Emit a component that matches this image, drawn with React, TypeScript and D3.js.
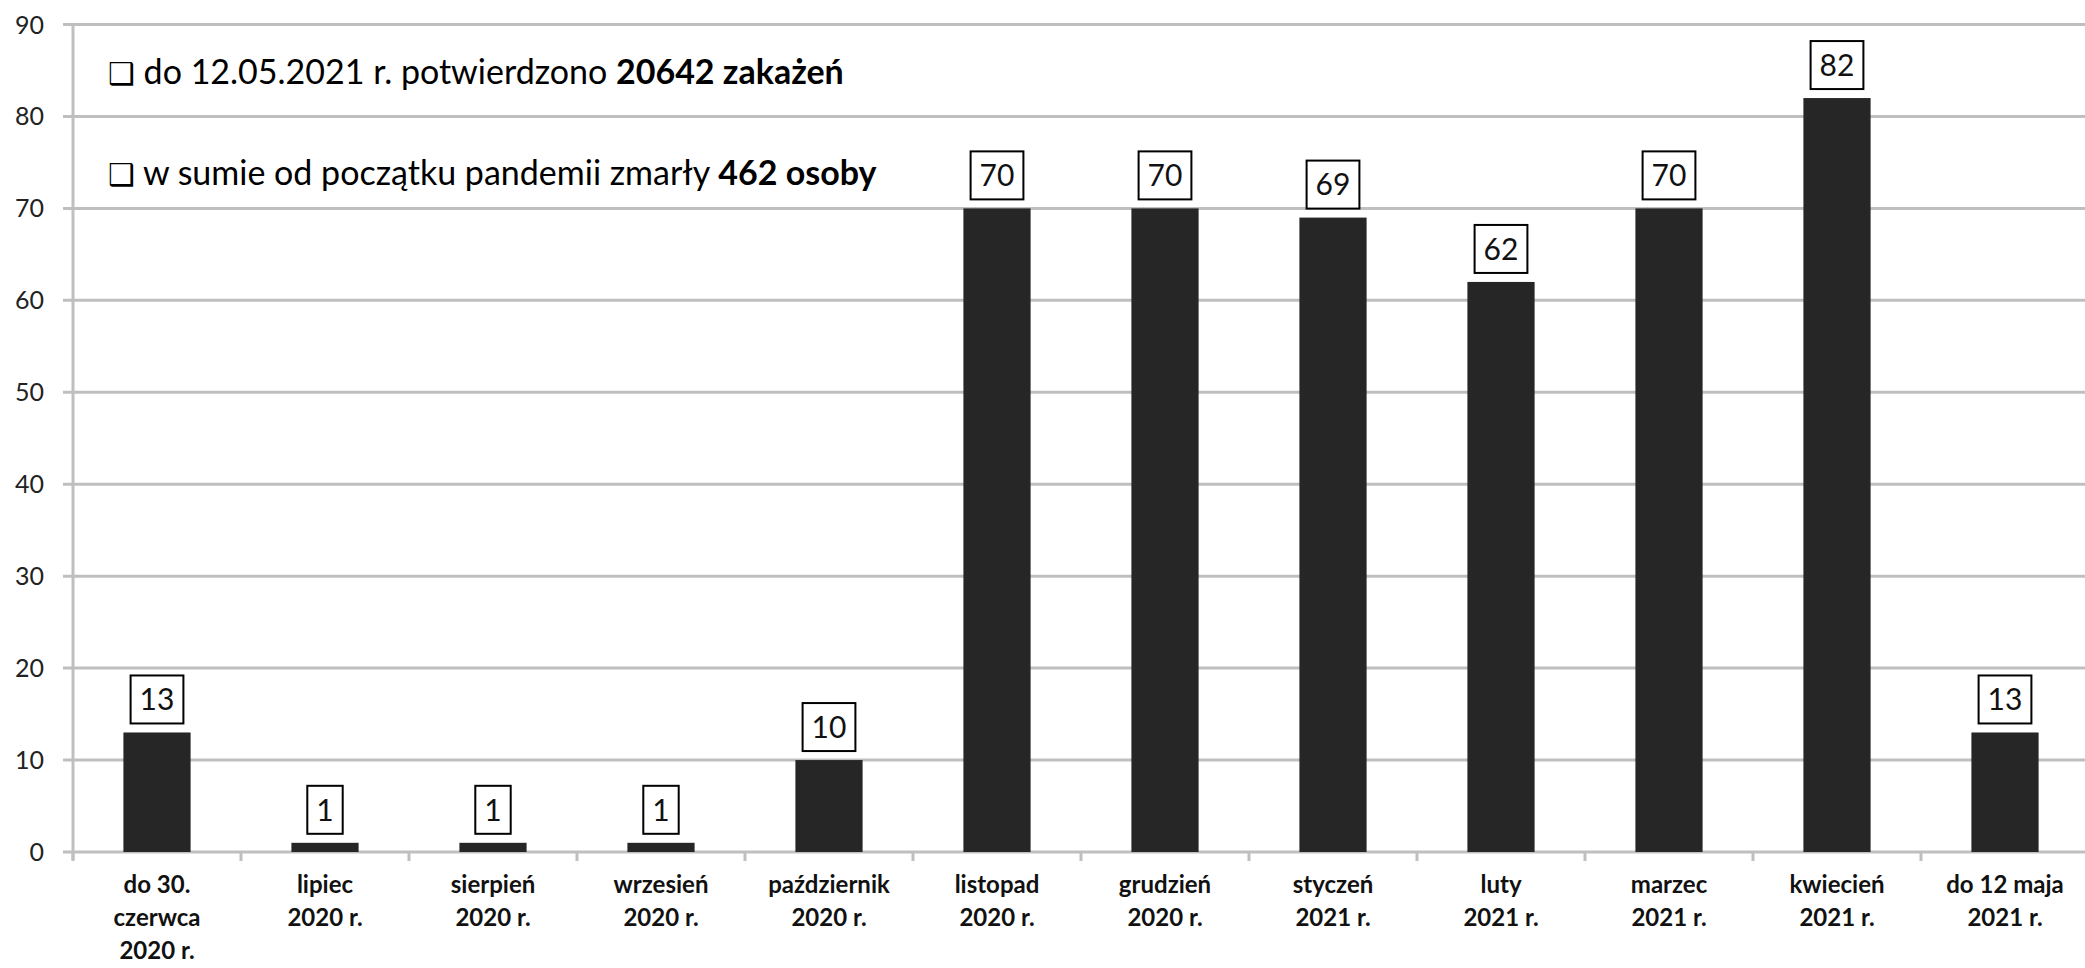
import React, { useEffect, useRef } from "react";
import * as d3 from "d3";

const categories = [
  ["do 30.", "czerwca", "2020 r."],
  ["lipiec", "2020 r."],
  ["sierpień", "2020 r."],
  ["wrzesień", "2020 r."],
  ["październik", "2020 r."],
  ["listopad", "2020 r."],
  ["grudzień", "2020 r."],
  ["styczeń", "2021 r."],
  ["luty", "2021 r."],
  ["marzec", "2021 r."],
  ["kwiecień", "2021 r."],
  ["do 12 maja", "2021 r."]
];
const values = [13, 1, 1, 1, 10, 70, 70, 69, 62, 70, 82, 13];
const yTicks = [0, 10, 20, 30, 40, 50, 60, 70, 80, 90];
const notes = [
  { text: "do 12.05.2021 r. potwierdzono ", bold: "20642 zakażeń" },
  { text: "w sumie od początku pandemii zmarły ", bold: "462 osoby" }
];

const FONT = "Lato, 'Open Sans', sans-serif";

export default function App() {
  const ref = useRef<SVGSVGElement>(null);

  useEffect(() => {
    const width = 2085;
    const height = 968;
    const left = 73;
    const step = 168;
    const y0 = 852;
    const yTop = 24.5;

    const svg = d3.select(ref.current);
    svg.selectAll("*").remove();
    svg.attr("width", width).attr("height", height);

    const keys = categories.map((c, i) => String(i));
    const x = d3.scaleBand()
      .domain(keys)
      .range([left, left + step * categories.length])
      .paddingInner(0.6)
      .paddingOuter(0.3);

    const y = d3.scaleLinear().domain([0, 90]).range([y0, yTop]);

    // gridlines
    svg.append("g")
      .selectAll("line")
      .data(yTicks)
      .enter()
      .append("line")
      .attr("x1", left - 10)
      .attr("x2", width)
      .attr("y1", d => y(d))
      .attr("y2", d => y(d))
      .attr("stroke", "#bfbfbf")
      .attr("stroke-width", 3);

    // y axis line
    svg.append("line")
      .attr("x1", left).attr("x2", left)
      .attr("y1", yTop).attr("y2", y0 + 8)
      .attr("stroke", "#bfbfbf")
      .attr("stroke-width", 3);

    // x ticks
    svg.append("g")
      .selectAll("line")
      .data(d3.range(categories.length + 1))
      .enter()
      .append("line")
      .attr("x1", i => left + i * x.step())
      .attr("x2", i => left + i * x.step())
      .attr("y1", y0)
      .attr("y2", y0 + 9)
      .attr("stroke", "#bfbfbf")
      .attr("stroke-width", 3);

    // y labels
    svg.append("g")
      .selectAll("text")
      .data(yTicks)
      .enter()
      .append("text")
      .attr("x", 44)
      .attr("y", d => y(d))
      .attr("dy", "0.36em")
      .attr("text-anchor", "end")
      .style("font-family", FONT)
      .style("font-size", "25px")
      .style("fill", "#222")
      .text(d => d);

    // bars
    svg.append("g")
      .selectAll("rect")
      .data(values)
      .enter()
      .append("rect")
      .attr("x", (d, i) => x(keys[i]) as number)
      .attr("y", d => y(d))
      .attr("width", x.bandwidth())
      .attr("height", d => y0 - y(d))
      .style("fill", "#262626");

    // value labels in boxes
    values.forEach((v, i) => {
      const cx = (x(keys[i]) as number) + x.bandwidth() / 2;
      const boxBottom = y(v) - 9;
      const g = svg.append("g");
      const rect = g.append("rect");
      const t = g.append("text")
        .attr("x", cx)
        .attr("y", boxBottom - 24)
        .attr("dy", "0.36em")
        .attr("text-anchor", "middle")
        .style("font-family", FONT)
        .style("font-size", "30px")
        .style("fill", "#111")
        .text(v);
      const w = (t.node() as SVGTextElement).getComputedTextLength() + 18;
      rect
        .attr("x", cx - w / 2)
        .attr("y", boxBottom - 48)
        .attr("width", w)
        .attr("height", 48)
        .attr("fill", "#fff")
        .attr("stroke", "#000")
        .attr("stroke-width", 2);
    });

    // x labels
    categories.forEach((lines, i) => {
      const cx = (x(keys[i]) as number) + x.bandwidth() / 2;
      const t = svg.append("text")
        .attr("text-anchor", "middle")
        .style("font-family", FONT)
        .style("font-size", "24px")
        .style("font-weight", "bold")
        .style("fill", "#111");
      lines.forEach((line, j) => {
        t.append("tspan").attr("x", cx).attr("y", 893 + j * 33).text(line);
      });
    });

    // annotations
    notes.forEach((n, i) => {
      const t = svg.append("text")
        .attr("x", 108)
        .attr("y", 84 + i * 101)
        .style("font-family", FONT)
        .style("font-size", "34px")
        .style("fill", "#000");
      t.append("tspan").style("font-family", "'DejaVu Sans', sans-serif").style("font-size", "30px").text("❑");
      t.append("tspan").text(" " + n.text);
      t.append("tspan").style("font-weight", "bold").text(n.bold);
    });
  }, []);

  return (
    <svg
      ref={ref}
      style={{ position: "absolute", left: 0, top: 0, background: "#fff" }}
    />
  );
}
